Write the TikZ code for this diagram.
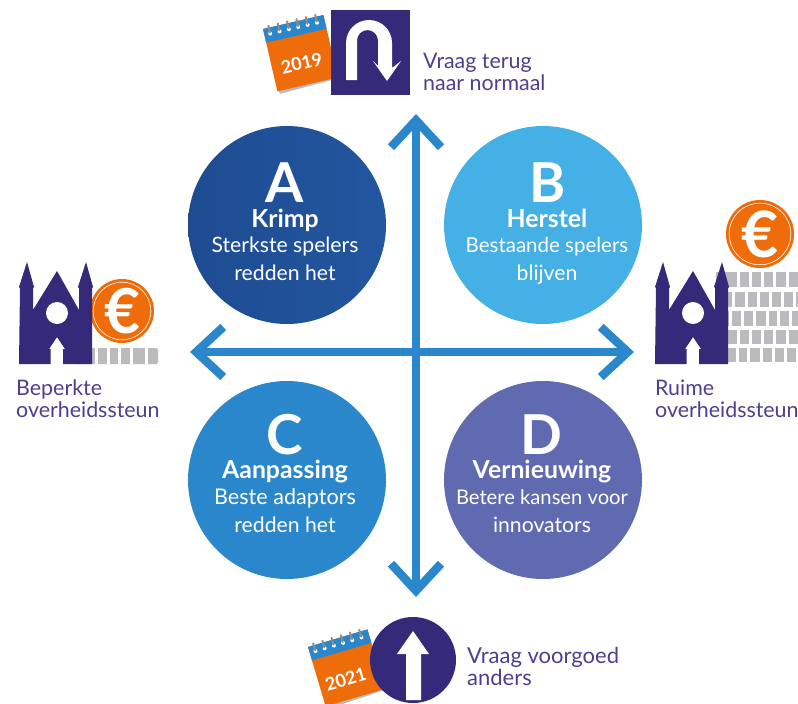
\documentclass[tikz,border=0pt]{standalone}
\usepackage{fontspec}
\setmainfont{Lato}
\usetikzlibrary{arrows.meta}
\definecolor{purpledark}{HTML}{35297A}
\definecolor{labelpurple}{HTML}{4B4090}
\definecolor{orangeC}{HTML}{EE6C0A}
\definecolor{greyC}{HTML}{BBBBBD}
\definecolor{blueA}{HTML}{22569E}
\definecolor{blueAd}{HTML}{1E4C92}
\definecolor{blueB}{HTML}{45B0E5}
\definecolor{blueC}{HTML}{2A87CB}
\definecolor{violetD}{HTML}{5F6AB0}
\tikzset{
  x=1pt,y=-1pt,
  quad/.style={circle,minimum size=198pt,inner sep=0pt},
  letter/.style={text=white,anchor=base,inner sep=0pt,font=\fontsize{55}{55}\selectfont\bfseries},
  title/.style={text=white,anchor=base,inner sep=0pt,font=\fontsize{24.8}{26}\selectfont\bfseries},
  body/.style={text=white,anchor=base,inner sep=0pt,font=\fontsize{21.2}{28}\selectfont,align=center},
  lab/.style={text=labelpurple,anchor=base west,inner sep=0pt,font=\fontsize{21.4}{22}\selectfont,align=left},
  axis/.style={draw=blueC,line width=8.5pt,{Straight Barb[length=27pt,width=50pt,line width=8.5pt]}-{Straight Barb[length=27pt,width=50pt,line width=8.5pt]}},
  slat/.style={white,line width=3pt}
}
\newcommand{\calicon}[6]{% x y rot year hgt textx
  \begin{scope}[shift={(#1,#2)},rotate=#3]
    \fill[greyC] (0,#5-6) -- (62,#5-6) -- (61,#5+1) -- (2,#5+3) -- cycle;
    \fill[orangeC] (0,0) -- (62,0) -- (62,#5) -- (0,#5) -- cycle;
    \fill[blueC] (0,0) -- (62,0) -- (62,14) -- (0,14) -- cycle;
    \foreach \k in {0,1,2,3,4,5}{
      \fill[white] (6+\k*9.6,6) circle (2pt);
      \draw[greyC!75!black,line width=2pt,line cap=round] (6+\k*9.6,-2) -- (6+\k*9.6,5);
    }
    \node[text=white,inner sep=0pt,rotate=#3,font=\fontsize{18}{18}\selectfont\bfseries] (cal#4) at (#6,42) {#4};
  \end{scope}}
\newcommand{\churchicon}[1]{%
  \begin{scope}[shift={(#1,0)}]
    \fill[purpledark] (19,364) -- (20,288) -- (19,287) -- (27,262) -- (34,287) -- (33,288) -- (33,310)
      -- (57,271) -- (79,310) -- (79,288) -- (78,287) -- (86,262) -- (93,287) -- (92,288) -- (92,364) -- (63,364)
      -- (63,349) -- (65,349) -- (57,337) -- (49,349) -- (50.5,349) -- (50.5,364) -- cycle;
    \fill[white] (57,313) circle (11pt);
  \end{scope}}
\newcommand{\eurocoin}[5]{% name x y r fontsize
  \fill[orangeC] (#2,#3) circle (#4 pt);
  \draw[white,line width=0.6pt] (#2,#3) circle (#4 pt -3.2pt);
  \node[text=white,inner sep=0pt,font=\fontsize{#5}{#5}\selectfont\bfseries] (#1) at (#2,#3) {€};
}
\begin{document}
\begin{tikzpicture}
\useasboundingbox (0,0) rectangle (798,704);
% quadrants
\node[quad,left color=blueAd,right color=blueA] (A) at (287,225) {};
\node[quad,fill=blueB] (B) at (543,225) {};
\node[quad,fill=blueC] (C) at (287,480) {};
\node[quad,fill=violetD] (D) at (543,480) {};
\node[letter] (la) at (285,202) {A};
\node[title] (ta) at (285,227) {Krimp};
\node[body] (ba) at (285,252) {Sterkste spelers};
\node[body] (ba2) at (285,280) {redden het};
\node[letter] (lb) at (548,202) {B};
\node[title] (tb) at (547,227) {Herstel};
\node[body,font=\fontsize{20.5}{28}\selectfont] (bb) at (547,252) {Bestaande spelers};
\node[body] (bb2) at (547,280) {blijven};
\node[letter] (lc) at (285,454) {C};
\node[title] (tc) at (285,478) {Aanpassing};
\node[body,font=\fontsize{21.6}{28}\selectfont] (bc) at (285,504) {Beste adaptors};
\node[body] (bc2) at (285,532) {redden het};
\node[letter] (ld) at (541,454) {D};
\node[title] (td) at (542,478) {Vernieuwing};
\node[body,font=\fontsize{20.2}{28}\selectfont] (bd) at (542,504) {Betere kansen voor};
\node[body] (bd2) at (542,532) {innovators};
% axes
\coordinate (n) at (416,114);
\coordinate (s) at (416,597);
\coordinate (w) at (190,352);
\coordinate (e) at (634,352);
\draw[axis] (n) -- (s);
\draw[axis] (w) -- (e);
% top icon
\calicon{263}{29}{13}{2019}{64}{30}
\fill[purpledark] (331,10) rectangle (410,95);
\fill[white] (346,80) -- (346,43) arc[start angle=180,end angle=0,radius=23pt] -- (392,68) -- (401,61) -- (387,81) -- (373,61) -- (378,66) -- (378,40.5)
  arc[start angle=0,end angle=180,radius=10.5pt] -- (357,80) -- cycle;
\node[lab] (topl) at (423,90) {Vraag terug\\naar normaal};
% bottom icon
\calicon{308}{647}{16.5}{2021}{62}{27}
\fill[purpledark] (413,660) circle (43pt);
\fill[white] (413,631) -- (429,654) -- (421,654) -- (421,700) -- (406,700) -- (406,654) -- (397,654) -- cycle;
\node[lab,font=\fontsize{22}{22}\selectfont] (botl) at (467,685) {Vraag voorgoed\\anders};
% left icon
\fill[greyC,rounded corners=1.5pt] (75,348) rectangle (158,364);
\foreach \x in {96,108,119,131,146}{\draw[slat] (\x,348) -- (\x,364);}
\eurocoin{eurol}{122}{311}{32}{62}
\churchicon{0}
\node[lab] (leftl) at (16,417) {Beperkte\\overheidssteun};
% right icon
\fill[greyC] (716,272) rectangle (798,287);
\fill[greyC] (728,292) rectangle (798,307);
\fill[greyC] (728,311) rectangle (798,326);
\fill[greyC] (728,330) rectangle (798,344);
\fill[greyC] (728,348) rectangle (798,362);
\foreach \x in {738,750,762,774,787}{\draw[slat] (\x,272) -- (\x,287);}
\foreach \x in {733,746,758,770,782,794}{\draw[slat] (\x,292) -- (\x,307);}
\foreach \x in {730,742,754,767,778,790}{\draw[slat] (\x,311) -- (\x,326);}
\foreach \x in {738,750,762,774,787}{\draw[slat] (\x,330) -- (\x,344);}
\foreach \x in {737,748,761,773,785,797}{\draw[slat] (\x,348) -- (\x,362);}
\eurocoin{euror}{760}{234}{34}{64}
\churchicon{636}
\node[lab] (rightl) at (655,417) {Ruime\\overheidssteun};
\end{tikzpicture}
\end{document}
